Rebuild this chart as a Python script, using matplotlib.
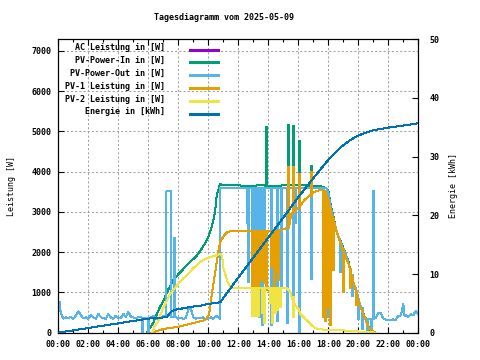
import matplotlib
matplotlib.use('Agg')
import matplotlib.pyplot as plt
from matplotlib.lines import Line2D

plt.rcParams['font.family'] = 'DejaVu Sans Mono'
plt.rcParams['font.weight'] = 'bold'
plt.rcParams['font.size'] = 6

# gnuplot default line colours
C_AC = '#9400d3'
C_IN = '#009e73'
C_OUT = '#56b4e9'
C_PV1 = '#e69f00'
C_PV2 = '#f0e442'
C_EN = '#0072b2'

title = 'Tagesdiagramm vom 2025-05-09'
labels = ['AC Leistung in [W]', 'PV-Power-In in [W]', 'PV-Power-Out in [W]',
          'PV-1 Leistung in [W]', 'PV-2 Leistung in [W]', 'Energie in [kWh]']

# ---- PV-Power-Out [W] (time, value)
pv_out = [("00:00", 470), ("00:05", 760), ("00:10", 480), ("00:20", 350), ("00:30", 380),
          ("00:40", 360), ("00:50", 390), ("01:00", 350), ("01:10", 420), ("01:20", 530),
          ("01:30", 440), ("01:40", 360), ("01:50", 380), ("02:00", 350), ("02:10", 440),
          ("02:20", 380), ("02:30", 350), ("02:40", 470), ("02:50", 390), ("03:00", 360),
          ("03:10", 340), ("03:20", 460), ("03:30", 380), ("03:40", 350), ("03:50", 420),
          ("04:00", 370), ("04:10", 360), ("04:20", 470), ("04:30", 390), ("04:40", 520),
          ("04:50", 400), ("05:00", 380), ("05:10", 360), ("05:20", 390), ("05:30", 380),
          ("05:40", 360), ("05:50", 350), ("06:00", 370), ("06:10", 380), ("06:20", 420),
          ("06:30", 370), ("06:40", 330), ("06:50", 380), ("07:00", 420), ("07:11", 380),
          ("07:12", 3510), ("07:31", 3510), ("07:32", 380), ("07:50", 390), ("08:00", 350),
          ("08:10", 370), ("08:20", 340), ("08:30", 360), ("08:40", 580), ("08:50", 600),
          ("09:00", 380), ("09:10", 350), ("09:20", 370), ("09:30", 360), ("09:40", 380),
          ("09:50", 330), ("10:00", 350), ("10:10", 380), ("10:20", 340), ("10:30", 420),
          ("10:40", 380), ("10:47", 350), ("10:48", 3600), ("17:52", 3600), ("18:00", 3500),
          ("18:10", 3100), ("18:20", 2850), ("18:30", 2600), ("18:40", 2400), ("18:50", 2250),
          ("19:00", 2050), ("19:10", 1950), ("19:20", 1750), ("19:30", 1500), ("19:40", 1250),
          ("19:50", 1100), ("20:00", 850), ("20:10", 650), ("20:20", 450), ("20:30", 350),
          ("20:40", 330), ("20:50", 340), ("21:00", 350), ("21:10", 360), ("21:20", 500),
          ("21:30", 480), ("21:40", 350), ("21:50", 320), ("22:00", 320), ("22:10", 320),
          ("22:20", 330), ("22:30", 320), ("22:40", 420), ("22:50", 430), ("23:00", 720),
          ("23:05", 420), ("23:10", 430), ("23:20", 400), ("23:30", 460), ("23:40", 430),
          ("23:50", 550), ("24:00", 460)]
# short drops / peaks (time, low, high)
pv_out_dips = [("05:35", 0, 380), ("06:00", 0, 370), ("07:42", 380, 2380), ("07:43", 380, 2380),
               ("12:35", 2720, 3600), ("12:38", 1270, 3600), ("13:22", 400, 3600),
               ("13:34", 190, 3600), ("13:43", 2550, 3600), ("14:10", 190, 3600),
               ("14:36", 300, 3600), ("14:52", 1100, 3600), ("15:16", 250, 3600),
               ("15:39", 880, 3600), ("15:45", 2720, 3600), ("16:01", 0, 3600),
               ("16:52", 1340, 3600), ("17:39", 760, 3600), ("17:54", 400, 3550),
               ("18:20", 1650, 2800), ("18:47", 1500, 2250), ("19:34", 900, 1450),
               ("20:00", 350, 850), ("20:14", 100, 650), ("20:35", 0, 350), ("20:50", 0, 350),
               ("20:57", 350, 3550), ("20:59", 350, 3550)]
pv_out_blocks = [("12:51", "13:28", 2550, 3600)]

# AC Leistung lies under PV-Power-Out almost everywhere
ac = pv_out

# ---- PV-Power-In [W]
pv_in = [("05:55", 0), ("06:10", 150), ("06:20", 250), ("06:30", 400), ("06:40", 550),
         ("06:50", 680), ("07:00", 780), ("07:10", 930), ("07:20", 1080), ("07:30", 1180),
         ("07:40", 1300), ("07:50", 1380), ("08:00", 1450), ("08:15", 1550), ("08:30", 1650),
         ("08:45", 1750), ("09:00", 1830), ("09:15", 1920), ("09:30", 2050), ("09:45", 2200),
         ("10:00", 2380), ("10:10", 2550), ("10:20", 2800), ("10:27", 3000), ("10:33", 3380),
         ("10:40", 3550), ("10:47", 3700), ("10:55", 3660), ("11:30", 3670), ("12:30", 3650),
         ("13:30", 3660), ("14:30", 3650), ("15:30", 3670), ("16:30", 3660), ("17:30", 3640),
         ("17:48", 3600), ("18:00", 3550), ("18:10", 3150), ("18:20", 2900), ("18:30", 2600),
         ("18:40", 2400), ("18:50", 2270), ("19:00", 2100), ("19:10", 1950), ("19:20", 1780),
         ("19:30", 1520), ("19:40", 1250), ("19:50", 1100), ("20:00", 820), ("20:10", 620),
         ("20:20", 480), ("20:30", 300), ("20:40", 150), ("20:50", 60), ("21:00", 20),
         ("21:10", 0)]
pv_in_dips = [("13:49", 3660, 4380), ("13:52", 3660, 5130), ("15:17", 3660, 5175),
              ("15:39", 3660, 5170), ("16:04", 3660, 4780), ("16:51", 3660, 4170)]

# ---- PV-1 Leistung [W]
pv1 = [("06:10", 0), ("06:30", 30), ("07:00", 90), ("07:30", 120), ("08:00", 150),
       ("08:30", 190), ("09:00", 240), ("09:20", 270), ("09:40", 300), ("09:50", 330),
       ("10:00", 420), ("10:05", 520), ("10:15", 1010), ("10:28", 1510), ("10:41", 2050),
       ("10:48", 2250), ("10:55", 2340), ("11:05", 2430), ("11:15", 2490), ("11:28", 2525),
       ("14:40", 2525), ("14:50", 2550), ("15:15", 2600), ("15:25", 2700), ("15:32", 2950),
       ("15:50", 3050), ("16:10", 3170), ("16:25", 3300), ("16:45", 3400), ("17:05", 3500),
       ("17:25", 3545), ("17:48", 3520), ("17:55", 3380), ("18:08", 3050), ("18:21", 2800),
       ("18:35", 2470), ("18:48", 2220), ("19:08", 1880), ("19:21", 1720), ("19:35", 1380),
       ("19:48", 1090), ("20:01", 760), ("20:15", 550), ("20:28", 340), ("20:41", 130),
       ("20:55", 50), ("21:08", 0)]
pv1_dips = [("13:32", 1310, 2525), ("13:43", 1230, 2525), ("13:51", 1060, 2525),
            ("14:12", 1640, 2525), ("14:23", 1140, 2525), ("14:32", 1500, 2525),
            ("14:40", 1300, 2525), ("15:17", 2600, 4130), ("15:39", 2970, 4130),
            ("16:04", 3100, 3970), ("16:51", 3400, 4010), ("17:40", 400, 3540),
            ("17:46", 300, 3520), ("18:00", 650, 3300), ("18:05", 200, 3100),
            ("18:19", 1560, 2850), ("18:58", 1000, 2100), ("19:27", 1100, 1600),
            ("19:50", 700, 1050)]
pv1_blocks = [("12:51", "13:28", 1050, 2525)]

# ---- PV-2 Leistung [W]
pv2 = [("06:15", 0), ("06:25", 150), ("06:41", 300), ("06:50", 470), ("07:01", 630),
       ("07:15", 800), ("07:28", 970), ("07:45", 1100), ("08:01", 1220), ("08:20", 1350),
       ("08:41", 1470), ("09:00", 1600), ("09:28", 1760), ("09:50", 1840), ("10:08", 1880),
       ("10:30", 1920), ("10:48", 1960), ("10:55", 1900), ("11:01", 1590), ("11:08", 1450),
       ("11:15", 1300), ("11:28", 1130), ("11:48", 1110), ("15:15", 1100), ("15:20", 1070),
       ("15:28", 1010), ("15:35", 840), ("15:48", 675), ("16:01", 590), ("16:08", 470),
       ("16:28", 340), ("16:55", 175), ("17:15", 90), ("18:08", 65), ("19:28", 50),
       ("20:08", 25), ("21:15", 0)]
pv2_dips = [("13:35", 480, 1110), ("13:43", 240, 1110), ("14:06", 730, 1110),
            ("14:16", 240, 1110), ("14:26", 480, 1110), ("14:35", 560, 1110),
            ("14:46", 650, 1110), ("15:40", 400, 900)]
pv2_blocks = [("12:51", "13:28", 380, 1110)]

# ---- Energie [kWh], right axis
energie = [("00:00", 0.0), ("01:00", 0.4), ("02:00", 0.8), ("03:00", 1.2), ("04:00", 1.6),
           ("05:00", 2.0), ("06:00", 2.4), ("07:00", 2.6), ("07:15", 2.7), ("07:30", 3.5),
           ("07:45", 3.9), ("08:00", 4.0), ("08:48", 4.4), ("09:28", 4.6), ("10:00", 4.9),
           ("10:48", 5.2), ("11:00", 5.9), ("12:00", 9.4), ("13:00", 12.8), ("14:00", 16.2),
           ("15:00", 19.6), ("16:00", 23.1), ("16:54", 26.0), ("17:30", 27.9), ("18:07", 29.8),
           ("18:47", 31.5), ("19:20", 32.6), ("19:54", 33.5), ("20:30", 34.1), ("21:00", 34.5),
           ("22:07", 35.0), ("23:00", 35.3), ("24:00", 35.7)]


def hrs(s):
    hh, mm = s.split(':')
    return int(hh) + int(mm) / 60.0


LW = 0.72      # curves, about one pixel
LW_SPIKE = 1.0  # short spikes and key samples


def draw(ax, series, color, z, dips=(), blocks=()):
    t = [hrs(a) for a, _ in series]
    v = [b for _, b in series]
    ax.plot(t, v, color=color, lw=LW, zorder=z, antialiased=False)
    if dips:
        ax.vlines([hrs(a) for a, _, _ in dips], [lo for _, lo, _ in dips],
                  [hi for _, _, hi in dips], color=color, lw=LW_SPIKE, zorder=z,
                  antialiased=False)
    for t0, t1, lo, hi in blocks:
        ax.fill_between([hrs(t0), hrs(t1)], lo, hi, color=color, lw=0, zorder=z)


fig = plt.figure(figsize=(4.8, 3.6), dpi=100)
ax = fig.add_axes([58.3 / 480, 1 - 332.7 / 360, 360 / 480, 293.4 / 360])

draw(ax, ac, C_AC, 2)
draw(ax, pv_in, C_IN, 3, pv_in_dips)
draw(ax, pv_out, C_OUT, 4, pv_out_dips, pv_out_blocks)
draw(ax, pv1, C_PV1, 5, pv1_dips, pv1_blocks)
draw(ax, pv2, C_PV2, 6, pv2_dips, pv2_blocks)

ax.set_xlim(0, 24)
ax.set_ylim(0, 7290)
ax.set_xticks(range(0, 25, 2))
ax.set_xticklabels(['%02d:00' % (h % 24) for h in range(0, 25, 2)])
ax.set_xticks(range(1, 24, 2), minor=True)
ax.set_yticks(range(0, 7001, 1000))
ax.tick_params(direction='in', length=4, width=0.8, top=True, right=True, labelsize=6, pad=5)
ax.tick_params(which='minor', direction='in', length=2, width=0.8, top=True)
ax.grid(True, color='#a0a0a0', ls=(0, (2, 2)), lw=0.75)
ax.set_axisbelow(True)
ax.set_ylabel('Leistung [W]', labelpad=11)
for s in ax.spines.values():
    s.set_linewidth(0.8)

ax2 = ax.twinx()
draw(ax2, energie, C_EN, 7)
ax2.set_ylim(0, 50)
ax2.set_yticks(range(0, 51, 10))
ax2.tick_params(direction='in', length=4, width=0.8, labelsize=6, pad=8)
ax2.set_ylabel('Energie [kWh]', labelpad=7)

fig.text(224 / 480, 1 - 18 / 360, title, ha='center', va='center')

# gnuplot style key: right aligned text, sample line after it
colors = [C_AC, C_IN, C_OUT, C_PV1, C_PV2, C_EN]
for i, (lab, c) in enumerate(zip(labels, colors)):
    yy = 1 - (48 + i * 12.8) / 360
    fig.text(165 / 480, yy, lab, ha='right', va='center')
    fig.add_artist(Line2D([190 / 480, 218 / 480], [yy - 1.5 / 360] * 2, color=c, lw=LW_SPIKE,
                          transform=fig.transFigure, antialiased=False))

fig.savefig('out.png', dpi=100)
